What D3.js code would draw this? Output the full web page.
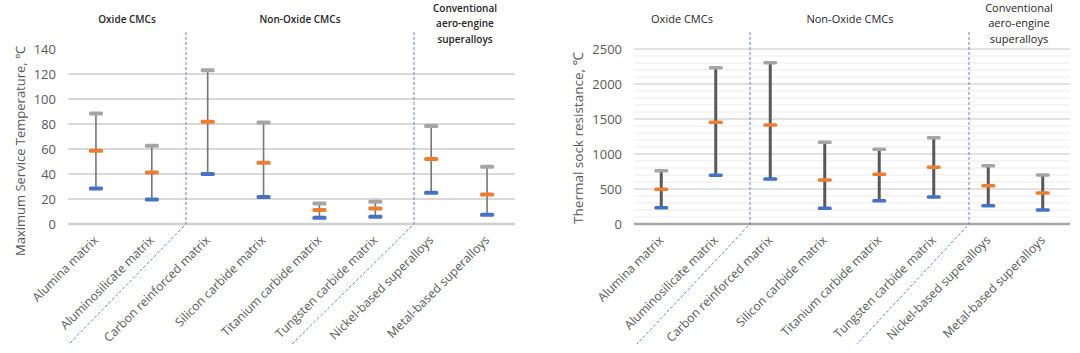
<!DOCTYPE html>
<html>
<head>
<meta charset="utf-8">
<script src="https://cdn.jsdelivr.net/npm/d3@7"></script>
<style>
  body { margin: 0; background: #fff; }
  svg { display: block; font-family: "Open Sans", "Noto Sans", sans-serif; }
</style>
</head>
<body>
<svg id="chart" width="1080" height="353"></svg>
<script>
const categories = ["Alumina matrix", "Aluminosilicate matrix", "Carbon reinforced matrix",
    "Silicon carbide matrix", "Titanium carbide matrix", "Tungsten carbide matrix",
    "Nickel-based superalloys", "Metal-based superalloys"];

// max service temperature (left panel)
const tempHigh = [88.5, 62.7, 123, 81.3, 16.5, 17.9, 78.4, 45.9];
const tempMid  = [58.6, 41.3, 81.9, 49, 11.2, 12.5, 52, 23.7];
const tempLow  = [28.5, 19.7, 40, 21.6, 5, 5.9, 25, 7.5];

// thermal shock resistance (right panel)
const shockHigh = [762, 2233, 2305, 1167, 1067, 1233, 833, 700];
const shockMid  = [495, 1452, 1414, 629, 710, 810, 548, 443];
const shockLow  = [233, 695, 643, 224, 333, 386, 262, 200];

const groupLabels = [["Oxide CMCs"], ["Non-Oxide CMCs"], ["Conventional", "aero-engine", "superalloys"]];

const svg = d3.select("#chart");
const plotTop = 49, plotBottom = 224;

function panel(opts) {
    const g = svg.append("g");
    const x = d3.scaleBand().domain(categories).range([opts.left, opts.right]);
    const y = d3.scaleLinear().domain([0, opts.max]).range([plotBottom, plotTop]);

    // gridlines
    if (opts.minor) {
        g.selectAll(".minor")
            .data(d3.range(opts.minor, opts.max + 1, opts.minor).filter(v => v % opts.step !== 0))
            .enter().append("line")
            .attr("x1", opts.left).attr("x2", opts.right)
            .attr("y1", d => y(d)).attr("y2", d => y(d))
            .attr("stroke", "#ebebeb").attr("stroke-width", 1);
    }
    g.selectAll(".major")
        .data(d3.range(opts.step, opts.max + 1, opts.step).filter(v => v < opts.max || opts.topGrid))
        .enter().append("line")
        .attr("x1", opts.left).attr("x2", opts.right)
        .attr("y1", d => y(d)).attr("y2", d => y(d))
        .attr("stroke", "#d9d9d9").attr("stroke-width", opts.gridW);
    g.append("line")
        .attr("x1", opts.left).attr("x2", opts.right)
        .attr("y1", y(0)).attr("y2", y(0))
        .attr("stroke", opts.zeroColor).attr("stroke-width", 2.5);

    // y axis labels
    const yAxis = g.append("g")
        .attr("transform", `translate(${opts.labelX},0)`)
        .call(d3.axisLeft(y)
            .tickValues(d3.range(0, opts.max + 1, opts.step))
            .tickFormat(d3.format("d"))
            .tickSize(0).tickPadding(0));
    yAxis.select(".domain").remove();
    yAxis.selectAll("text")
        .attr("fill", "#595959")
        .style("font-size", "13px")
        .style("font-family", "'Open Sans', sans-serif");

    // y title
    g.append("text")
        .attr("transform", `translate(${opts.titleX},${opts.titleY}) rotate(-90)`)
        .attr("text-anchor", "middle")
        .attr("fill", "#595959")
        .style("font-size", opts.titleSize)
        .text(opts.yTitle);

    // category labels
    g.selectAll(".cat")
        .data(categories)
        .enter().append("text")
        .attr("transform", d => `translate(${x(d) + x.bandwidth() / 2 + 3},${plotBottom + 17}) rotate(-45)`)
        .attr("text-anchor", "end")
        .attr("fill", "#595959")
        .style("font-size", "12.2px")
        .text(d => d);

    // divider lines
    opts.dividers.forEach(d => {
        g.append("path")
            .attr("d", `M${d[0]},32 L${d[0]},${plotBottom} L${d[1]},344`)
            .attr("fill", "none")
            .attr("stroke", "#5b8ad8")
            .attr("stroke-width", 1)
            .attr("stroke-dasharray", "3,2");
    });

    // group titles
    groupLabels.forEach((lines, i) => {
        const t = g.append("text")
            .attr("text-anchor", "middle")
            .attr("fill", "#262626")
            .style("font-size", opts.groupSize)
            .style("font-weight", opts.groupWeight);
        const y0 = lines.length > 1 ? 11.5 : 23;
        lines.forEach((l, j) => {
            t.append("tspan").attr("x", opts.groupX[i]).attr("y", y0 + j * 15.5).text(l);
        });
    });

    // error bars
    const cx = d => x(d) + x.bandwidth() / 2;
    g.selectAll(".bar")
        .data(categories)
        .enter().append("line")
        .attr("x1", cx).attr("x2", cx)
        .attr("y1", (d, i) => y(opts.low[i])).attr("y2", (d, i) => y(opts.high[i]))
        .attr("stroke", opts.barColor)
        .attr("stroke-width", opts.barW);

    const caps = [[opts.high, "#a5a5a5"], [opts.mid, "#ed7d31"], [opts.low, "#4472c4"]];
    caps.forEach(([vals, color]) => {
        g.selectAll(null)
            .data(categories)
            .enter().append("rect")
            .attr("x", d => cx(d) - 7)
            .attr("y", (d, i) => y(vals[i]) - opts.capH / 2)
            .attr("width", 14)
            .attr("height", opts.capH)
            .attr("rx", 1.5)
            .attr("fill", color);
    });
}

panel({
    left: 68, right: 515, max: 140, step: 20, gridW: 2, zeroColor: "#d0d0d0", topGrid: false,
    labelX: 56, titleX: 25, titleY: 151, titleSize: "13px",
    yTitle: "Maximum Service Temperature, \u2103",
    high: tempHigh, mid: tempMid, low: tempLow,
    barW: 1.6, barColor: "#767676", capH: 4,
    dividers: [[186, 69], [414, 292]],
    groupX: [127, 300, 465], groupSize: "10px", groupWeight: 600
});

panel({
    left: 634, right: 1070, max: 2500, step: 500, minor: 100, gridW: 1.5, zeroColor: "#a6a6a6", topGrid: true,
    labelX: 622, titleX: 583, titleY: 138, titleSize: "13.5px",
    yTitle: "Thermal sock resistance, \u2103",
    high: shockHigh, mid: shockMid, low: shockLow,
    barW: 3, barColor: "#595959", capH: 3.5,
    dividers: [[750, 637], [969, 857]],
    groupX: [682, 850, 1019], groupSize: "11px", groupWeight: 400
});
</script>
</body>
</html>
